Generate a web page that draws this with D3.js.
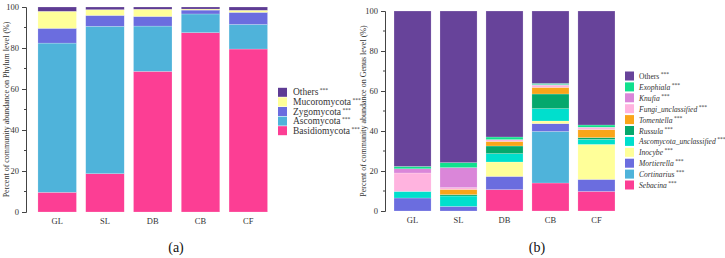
<!DOCTYPE html>
<html>
<head>
<meta charset="utf-8">
<script src="https://cdn.jsdelivr.net/npm/d3@7"></script>
<style>
  body { margin: 0; background: #fff; }
  text { font-family: "Liberation Serif", "Times New Roman", serif; fill: #333; }
</style>
</head>
<body>
<script>
var sites = ['GL', 'SL', 'DB', 'CB', 'CF'];
var yTicks = [0, 20, 40, 60, 80, 100];

// phylum level, bottom to top
var phyla = ['Basidiomycota', 'Ascomycota', 'Zygomycota', 'Mucoromycota', 'Others'];
var phylumColors = ['#fc3e94', '#4fb3da', '#6b6ddf', '#ffff99', '#5e3c94'];
var basidiomycota = [9.6, 18.7, 68.6, 87.5, 79.5];
var ascomycota    = [72.8, 71.9, 22.1, 9.1, 12.0];
var zygomycota    = [7.2, 5.3, 4.7, 1.9, 5.9];
var mucoromycota  = [8.3, 2.8, 3.5, 0.5, 1.0];
var phylumOthers  = [2.1, 1.3, 1.1, 1.0, 1.6];
var phylumValues = [basidiomycota, ascomycota, zygomycota, mucoromycota, phylumOthers];

// genus level, bottom to top
var genera = ['Sebacina', 'Cortinarius', 'Mortierella', 'Inocybe', 'Ascomycota_unclassified',
              'Russula', 'Tomentella', 'Fungi_unclassified', 'Knufia', 'Exophiala', 'Others'];
var genusColors = ['#fc3e94', '#4fb3da', '#6b6ddf', '#ffff99', '#00dfcd',
                   '#05a86c', '#faa519', '#ffb3df', '#da86d9', '#11e08d', '#67439a'];
var sebacina     = [0, 0, 10.7, 14.0, 9.8];
var cortinarius  = [0, 0, 0, 25.8, 0];
var mortierella  = [6.5, 2.3, 6.6, 3.9, 6.0];
var inocybe      = [0, 0, 7.2, 1.3, 17.5];
var ascoUnclass  = [3.3, 5.2, 4.2, 6.2, 2.5];
var russula      = [0, 0.7, 3.8, 7.3, 0.9];
var tomentella   = [0, 2.6, 2.3, 3.3, 4.0];
var fungiUnclass = [9.2, 0.9, 0.9, 1.0, 1.2];
var knufia       = [2.1, 10.0, 0, 0.4, 0];
var exophiala    = [1.2, 2.5, 1.3, 0.6, 1.1];
var genusOthers  = [77.7, 75.8, 63.0, 36.2, 57.0];
var genusValues = [sebacina, cortinarius, mortierella, inocybe, ascoUnclass, russula,
                   tomentella, fungiUnclass, knufia, exophiala, genusOthers];

var W = 725, H = 258;
var svg = d3.select('body').append('svg').attr('width', W).attr('height', H);

function drawPanel(opt) {
  var names = opt.names, values = opt.values, colors = opt.colors;
  var rows = sites.map(function(s, i) {
    var r = { site: s };
    names.forEach(function(n, k) { r[n] = values[k][i]; });
    return r;
  });
  var stack = d3.stack().keys(names)(rows);

  var x = d3.scaleBand().domain(sites).range(opt.xRange)
            .paddingInner(0.194).paddingOuter(opt.padOuter);
  var y = d3.scaleLinear().domain([0, 100]).range(opt.yRange);

  var g = svg.append('g');
  g.selectAll('g.layer')
   .data(stack)
   .enter().append('g')
   .attr('fill', function(d, i) { return colors[i]; })
   .selectAll('rect')
   .data(function(d) { return d; })
   .enter().append('rect')
   .attr('x', function(d) { return x(d.data.site); })
   .attr('y', function(d) { return y(d[1]); })
   .attr('width', x.bandwidth())
   .attr('height', function(d) { return Math.max(0, y(d[0]) - y(d[1])); })
   .attr('stroke', '#fff')
   .attr('stroke-opacity', 0.5)
   .attr('stroke-width', 0.4);

  // y axis with minor ticks
  var axisX = opt.xRange[0];
  var ax = g.append('g').attr('transform', 'translate(' + axisX + ',0)')
            .call(d3.axisLeft(y).tickValues(yTicks).tickSize(4).tickPadding(3));
  ax.select('.domain').attr('stroke', '#444').attr('stroke-width', 1);
  ax.selectAll('.tick line').attr('stroke', '#444');
  ax.selectAll('text').style('font-family', '"Liberation Serif", serif')
    .style('font-size', '8.5px').attr('fill', '#333');
  g.append('g').selectAll('line')
   .data([10, 30, 50, 70, 90])
   .enter().append('line')
   .attr('x1', axisX - 2).attr('x2', axisX)
   .attr('y1', function(d) { return y(d); }).attr('y2', function(d) { return y(d); })
   .attr('stroke', '#444');

  // category labels
  g.selectAll('text.cat')
   .data(sites)
   .enter().append('text')
   .attr('class', 'cat')
   .attr('x', function(d) { return x(d) + x.bandwidth() / 2; })
   .attr('y', opt.yRange[0] + 12)
   .attr('text-anchor', 'middle')
   .style('font-size', '8.5px')
   .text(function(d) { return d; });

  // axis title
  g.append('text')
   .attr('transform', 'translate(' + opt.titleX + ',' + ((opt.yRange[0] + opt.yRange[1]) / 2) + ') rotate(-90)')
   .attr('text-anchor', 'middle')
   .style('font-size', '8px')
   .text(opt.title);

  // panel letter
  g.append('text')
   .attr('x', opt.letterX).attr('y', 252)
   .attr('text-anchor', 'middle')
   .style('font-size', '14px')
   .style('fill', '#111')
   .text(opt.letter);

  // legend (top to bottom = reverse of stack)
  var lg = g.append('g');
  var items = names.map(function(n, i) { return { name: n, color: colors[i] }; }).reverse();
  var row = lg.selectAll('g')
    .data(items)
    .enter().append('g')
    .attr('transform', function(d, i) {
      return 'translate(' + opt.legX + ',' + (opt.legY + i * opt.legStep) + ')';
    });
  row.append('rect')
     .attr('x', 0).attr('y', -4.5).attr('width', 9).attr('height', 9)
     .attr('fill', function(d) { return d.color; });
  var t = row.append('text')
     .attr('x', opt.legTextDx).attr('y', 3)
     .style('font-size', opt.legFont)
     .style('font-style', function(d) { return (opt.italic && d.name !== 'Others') ? 'italic' : 'normal'; });
  t.append('tspan').text(function(d) { return d.name; });
  t.append('tspan').attr('dx', 1.5).attr('dy', -3).style('font-size', '5.5px')
   .style('font-style', 'normal').text('***');
}

drawPanel({
  names: phyla, values: phylumValues, colors: phylumColors,
  xRange: [26, 279.5], padOuter: 0.25, yRange: [212, 7],
  title: 'Percent of community abundance on  Phylum level (%)', titleX: 9,
  letter: '(a)', letterX: 176,
  legX: 278, legY: 92.3, legStep: 9.6, legTextDx: 15, italic: false, legFont: '9.5px'
});

drawPanel({
  names: genera, values: genusValues, colors: genusColors,
  xRange: [385, 624], padOuter: 0.196, yRange: [211, 11],
  title: 'Percent of community abundance on  Genus level (%)', titleX: 366,
  letter: '(b)', letterX: 537,
  legX: 625, legY: 76, legStep: 10.9, legTextDx: 14, italic: true, legFont: '7.6px'
});
</script>
</body>
</html>
